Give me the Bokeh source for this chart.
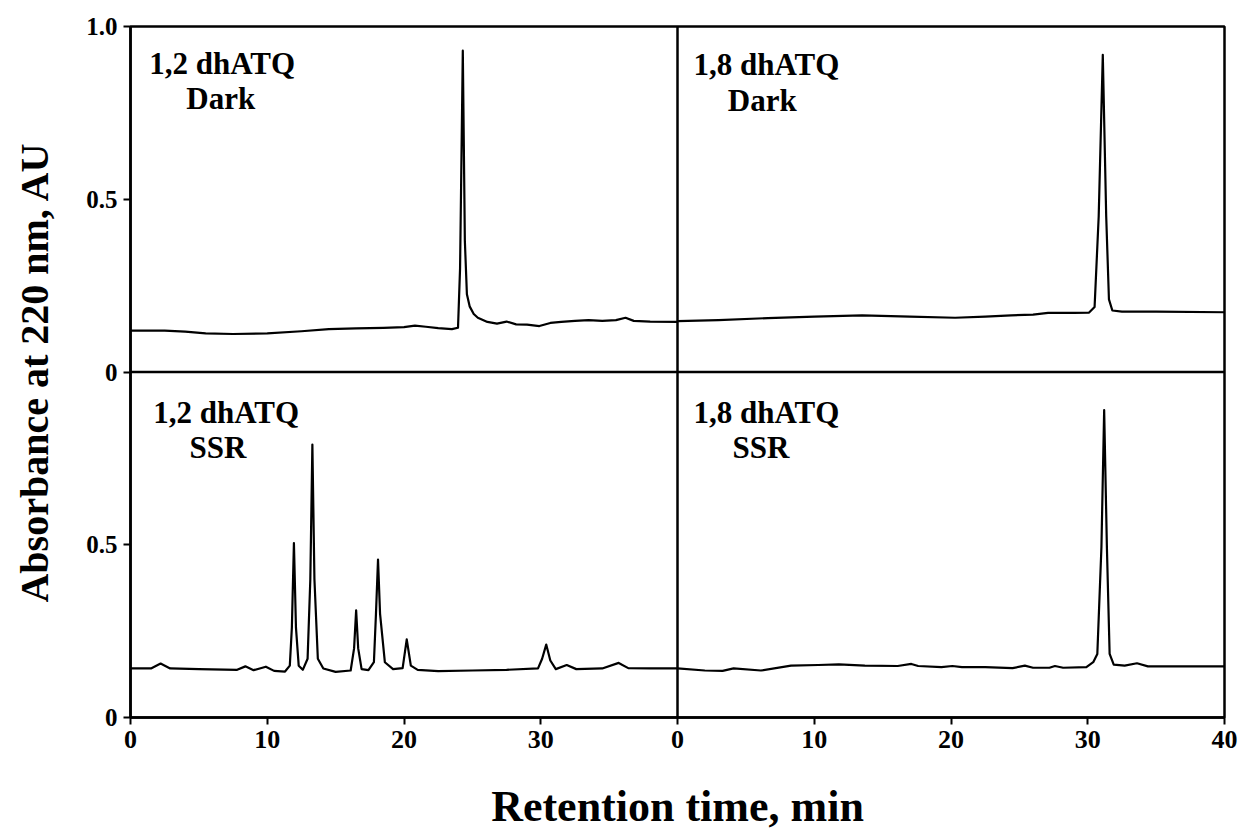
from bokeh.plotting import figure
from bokeh.models import Range1d, FixedTicker, Span, Label
from bokeh.embed import file_html
from bokeh.resources import INLINE

# Retention time (min) and absorbance at 220 nm (AU) for each chromatogram

# 1,2 dhATQ kept in the dark
dark12_time = [0, 2.5, 4.0, 5.5, 7.5, 10.0, 12.5, 14.5, 16.5, 18.5, 20.0, 20.8, 21.6,
               22.5, 23.5, 23.95, 24.1, 24.3, 24.45, 24.6, 24.8, 25.1, 25.4, 26.1,
               26.8, 27.5, 28.2, 29.0, 29.9, 30.7, 31.5, 32.5, 33.5, 34.5, 35.5,
               36.2, 36.8, 38.0, 40.0]
dark12_abs = [0.120, 0.120, 0.117, 0.112, 0.110, 0.112, 0.118, 0.124, 0.126, 0.128,
              0.130, 0.134, 0.131, 0.127, 0.124, 0.128, 0.300, 0.930, 0.380, 0.225,
              0.190, 0.168, 0.157, 0.145, 0.140, 0.146, 0.138, 0.137, 0.133, 0.142,
              0.145, 0.148, 0.150, 0.148, 0.150, 0.157, 0.148, 0.146, 0.145]

# 1,8 dhATQ kept in the dark
dark18_time = [0, 3.0, 6.6, 10.0, 13.5, 17.0, 20.3, 22.5, 24.4, 26.0, 27.1, 29.0,
               30.1, 30.5, 30.8, 31.1, 31.35, 31.55, 31.8, 32.5, 35.0, 40.0]
dark18_abs = [0.147, 0.150, 0.156, 0.160, 0.164, 0.160, 0.157, 0.160, 0.164, 0.166,
              0.171, 0.171, 0.172, 0.188, 0.450, 0.918, 0.450, 0.210, 0.178, 0.175,
              0.175, 0.173]

# 1,2 dhATQ after simulated solar radiation
ssr12_time = [0, 1.5, 2.2, 2.9, 5.0, 7.8, 8.4, 9.0, 9.9, 10.5, 11.3, 11.65, 11.8,
              11.95, 12.1, 12.3, 12.6, 12.95, 13.15, 13.3, 13.45, 13.7, 14.1, 15.0,
              16.1, 16.35, 16.5, 16.65, 16.9, 17.4, 17.8, 17.95, 18.1, 18.25, 18.6,
              19.2, 19.9, 20.2, 20.5, 21.0, 22.5, 25.0, 27.5, 29.8, 30.1, 30.4,
              30.7, 31.1, 31.9, 32.6, 34.5, 35.7, 36.4, 38.0, 40.0]
ssr12_abs = [0.142, 0.142, 0.156, 0.142, 0.140, 0.138, 0.148, 0.137, 0.147, 0.135,
             0.133, 0.150, 0.260, 0.505, 0.260, 0.150, 0.138, 0.170, 0.400, 0.790,
             0.400, 0.170, 0.142, 0.132, 0.136, 0.200, 0.310, 0.200, 0.140, 0.137,
             0.160, 0.300, 0.457, 0.300, 0.160, 0.140, 0.143, 0.226, 0.150, 0.138,
             0.134, 0.136, 0.138, 0.142, 0.170, 0.211, 0.165, 0.140, 0.152, 0.140,
             0.142, 0.158, 0.143, 0.142, 0.142]

# 1,8 dhATQ after simulated solar radiation
ssr18_time = [0, 2.0, 3.3, 4.1, 6.1, 8.3, 10.3, 11.8, 13.7, 16.1, 17.1, 17.6, 19.3,
              20.1, 20.8, 22.5, 24.5, 25.4, 26.0, 27.2, 27.6, 28.2, 29.9, 30.4,
              30.7, 31.0, 31.2, 31.4, 31.6, 31.9, 32.7, 33.6, 34.4, 40.0]
ssr18_abs = [0.142, 0.136, 0.135, 0.142, 0.136, 0.150, 0.152, 0.154, 0.150, 0.149,
             0.155, 0.149, 0.146, 0.149, 0.146, 0.146, 0.143, 0.150, 0.144, 0.144,
             0.149, 0.144, 0.146, 0.160, 0.184, 0.493, 0.890, 0.493, 0.184, 0.153,
             0.150, 0.157, 0.148, 0.148]

# Axis ticks: two 0-40 min time axes side by side, two 0-1 AU panels stacked
x_ticks = [0, 10, 20, 30, 40, 50, 60, 70, 80]
x_tick_labels = ["0", "10", "20", "30", "0", "10", "20", "30", "40"]
y_ticks = [0, 0.5, 1.0, 1.5, 2.0]
y_tick_labels = ["0", "0.5", "0", "0.5", "1.0"]

FONT = "Liberation Serif"

# One frame holds the 2x2 panels; each panel gets its own range pair.
p = figure(width=1242, height=833,
           x_range=Range1d(0, 80), y_range=Range1d(0, 2),
           output_backend="svg", toolbar_location=None,
           min_border_left=130, min_border_right=18,
           min_border_top=26, min_border_bottom=116)
p.extra_x_ranges = {"right": Range1d(-40, 40)}
p.extra_y_ranges = {"upper": Range1d(-1, 1)}

p.background_fill_color = "white"
p.border_fill_color = "white"
p.xgrid.visible = False
p.ygrid.visible = False
p.outline_line_color = "black"
p.outline_line_width = 2.5

for ax in (p.xaxis[0], p.yaxis[0]):
    ax.axis_line_width = 2.5
    ax.axis_line_color = "black"
    ax.major_tick_line_width = 2
    ax.major_tick_out = 7
    ax.major_tick_in = 0
    ax.minor_tick_line_color = None
    ax.major_label_text_font = FONT
    ax.major_label_text_font_style = "bold"
    ax.major_label_text_color = "black"
    ax.major_label_standoff = 6
    ax.axis_label_text_font = FONT
    ax.axis_label_text_font_style = "bold"
    ax.axis_label_text_color = "black"

p.xaxis[0].ticker = FixedTicker(ticks=x_ticks)
p.xaxis[0].major_label_overrides = dict(zip(x_ticks, x_tick_labels))
p.xaxis[0].major_label_text_font_size = "26px"
p.xaxis[0].axis_label = "Retention time, min"
p.xaxis[0].axis_label_text_font_size = "44px"
p.xaxis[0].axis_label_standoff = 31

p.yaxis[0].ticker = FixedTicker(ticks=y_ticks)
p.yaxis[0].major_label_overrides = dict(zip(y_ticks, y_tick_labels))
p.yaxis[0].major_label_text_font_size = "25px"
p.yaxis[0].axis_label = "Absorbance at 220 nm, AU"
p.yaxis[0].axis_label_text_font_size = "40px"
p.yaxis[0].axis_label_standoff = 26

# Panel dividers
p.add_layout(Span(location=40, dimension="height", line_color="black", line_width=2.5))
p.add_layout(Span(location=1.0, dimension="width", line_color="black", line_width=2.5))

line_style = dict(line_color="black", line_width=2.2, line_join="round")
p.line(dark12_time, dark12_abs, y_range_name="upper", **line_style)
p.line(dark18_time, dark18_abs, x_range_name="right", y_range_name="upper", **line_style)
p.line(ssr12_time, ssr12_abs, **line_style)
p.line(ssr18_time, ssr18_abs, x_range_name="right", **line_style)

# Panel captions
def caption(text, x, y, xr="default", yr="default"):
    p.add_layout(Label(x=x, y=y, text=text, x_range_name=xr, y_range_name=yr,
                       text_font=FONT, text_font_style="bold", text_font_size="31px",
                       text_color="black", text_align="center",
                       text_baseline="alphabetic"))

caption("1,2 dhATQ", 6.7, 0.894, yr="upper")
caption("Dark", 6.6, 0.793, yr="upper")
caption("1,8 dhATQ", 6.5, 0.891, xr="right", yr="upper")
caption("Dark", 6.2, 0.787, xr="right", yr="upper")
caption("1,2 dhATQ", 7.0, 0.883)
caption("SSR", 6.4, 0.781)
caption("1,8 dhATQ", 6.5, 0.883, xr="right")
caption("SSR", 6.1, 0.781, xr="right")

open("out.html", "w").write(file_html(p, INLINE))
